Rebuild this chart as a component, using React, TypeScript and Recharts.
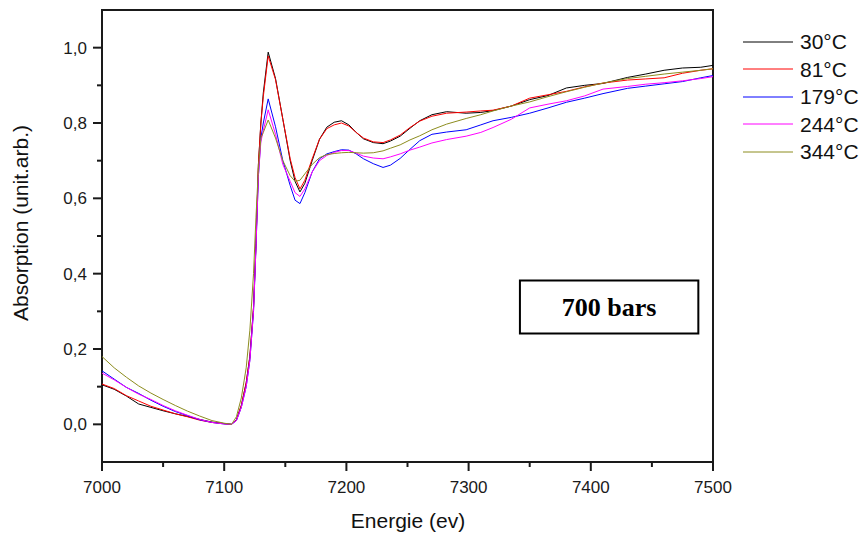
import { LineChart, Line, XAxis, YAxis, Legend, ReferenceArea, Label } from "recharts";

// photon energy (eV)
const energy = [
  7000, 7010, 7020, 7030, 7040, 7050, 7060, 7070, 7080, 7090,
  7100, 7106, 7110, 7114, 7118, 7121, 7124, 7126, 7128, 7130,
  7132, 7136, 7142, 7148, 7154, 7158, 7162, 7166, 7172, 7178,
  7184, 7190, 7196, 7202, 7208, 7214, 7222, 7230, 7236, 7244,
  7252, 7260, 7270, 7282, 7298, 7310, 7320, 7335, 7350, 7365,
  7380, 7395, 7410, 7430, 7445, 7460, 7475, 7490, 7500,
];

const abs30 = [
  0.105, 0.093, 0.075, 0.054, 0.045, 0.036, 0.028, 0.021, 0.013, 0.006,
  0.002, 0.0, 0.012, 0.05, 0.11, 0.18, 0.31, 0.48, 0.69, 0.8,
  0.88, 0.988, 0.918, 0.81, 0.7, 0.645, 0.617, 0.64, 0.7, 0.757,
  0.789, 0.802, 0.806, 0.795, 0.775, 0.758, 0.748, 0.745, 0.752, 0.765,
  0.786, 0.806, 0.822, 0.83, 0.826, 0.828, 0.833, 0.845, 0.862, 0.873,
  0.893, 0.9, 0.905, 0.921, 0.93, 0.94, 0.946, 0.948, 0.953,
];

const abs81 = [
  0.107, 0.095, 0.076, 0.062, 0.048, 0.038, 0.028, 0.02, 0.011, 0.005,
  0.002, 0.0, 0.012, 0.05, 0.11, 0.18, 0.31, 0.48, 0.69, 0.8,
  0.87, 0.978, 0.915, 0.81, 0.705, 0.655, 0.625, 0.648, 0.705, 0.757,
  0.785, 0.795, 0.8, 0.792, 0.775, 0.76, 0.75, 0.748, 0.755, 0.768,
  0.788, 0.805, 0.818, 0.826, 0.829, 0.832, 0.834, 0.845, 0.866, 0.875,
  0.884, 0.896, 0.906, 0.914, 0.917, 0.92, 0.932, 0.94, 0.944,
];

const abs179 = [
  0.142, 0.12, 0.098, 0.082, 0.064, 0.048, 0.034, 0.023, 0.012, 0.005,
  0.001, 0.0, 0.01, 0.045, 0.1, 0.17, 0.3, 0.47, 0.66, 0.76,
  0.8, 0.864, 0.79, 0.7, 0.634, 0.595, 0.586, 0.615, 0.67, 0.705,
  0.718, 0.724, 0.729, 0.728, 0.718, 0.705, 0.692, 0.682, 0.688, 0.706,
  0.73, 0.753, 0.77, 0.776, 0.782, 0.795, 0.806, 0.815, 0.826, 0.84,
  0.855, 0.866, 0.878, 0.892, 0.898, 0.904, 0.91, 0.92, 0.926,
];

const abs244 = [
  0.136, 0.118, 0.098, 0.08, 0.066, 0.05, 0.036, 0.024, 0.013, 0.005,
  0.001, 0.0, 0.01, 0.045, 0.1, 0.17, 0.3, 0.47, 0.66, 0.75,
  0.78, 0.835, 0.77, 0.69, 0.645, 0.615, 0.605, 0.625, 0.67, 0.7,
  0.714, 0.722, 0.727, 0.727, 0.72, 0.712, 0.707, 0.705, 0.71, 0.718,
  0.728, 0.736, 0.747, 0.756, 0.765, 0.775, 0.788, 0.81, 0.84, 0.85,
  0.859, 0.872, 0.89, 0.897, 0.903, 0.907, 0.912, 0.918, 0.923,
];

const abs344 = [
  0.18, 0.15, 0.125, 0.102, 0.083, 0.066, 0.05, 0.035, 0.022, 0.01,
  0.003, 0.0, 0.02, 0.07, 0.15, 0.25, 0.4, 0.55, 0.68, 0.76,
  0.775, 0.808, 0.76, 0.7, 0.66, 0.645, 0.648, 0.665, 0.69, 0.708,
  0.716, 0.719, 0.721, 0.722, 0.721, 0.72, 0.721, 0.726, 0.733, 0.742,
  0.755, 0.766, 0.782, 0.797, 0.812, 0.822, 0.832, 0.845, 0.856, 0.87,
  0.883, 0.895, 0.906, 0.918, 0.924, 0.93, 0.935, 0.94, 0.944,
];

const xTicks = [7000, 7050, 7100, 7150, 7200, 7250, 7300, 7350, 7400, 7450, 7500];
const yTicks = [0, 0.1, 0.2, 0.3, 0.4, 0.5, 0.6, 0.7, 0.8, 0.9, 1.0];

const series = [
  { key: "t30", name: "30°C", color: "#000000", values: abs30 },
  { key: "t81", name: "81°C", color: "#ff0000", values: abs81 },
  { key: "t179", name: "179°C", color: "#0000ff", values: abs179 },
  { key: "t244", name: "244°C", color: "#ff00ff", values: abs244 },
  { key: "t344", name: "344°C", color: "#8c8c1e", values: abs344 },
];

const rows = energy.map((e, i) => {
  const row: Record<string, number> = { e };
  series.forEach((s) => (row[s.key] = s.values[i]));
  return row;
});

const SANS = "'Liberation Sans', Arial, sans-serif";
const INK = "#1a1a1a";

function XTick({ x, y, payload }: any) {
  const v = payload.value;
  const major = v % 100 === 0;
  return (
    <g>
      <line x1={x} x2={x} y1={y} y2={y + (major ? 9 : 5)} stroke={INK} strokeWidth={2} />
      {major && (
        <text x={x} y={y + 31} textAnchor="middle" fontSize={17} fontFamily={SANS} fill={INK}>
          {v}
        </text>
      )}
    </g>
  );
}

function YTick({ x, y, payload }: any) {
  const v = payload.value;
  const major = Math.round(v * 10) % 2 === 0;
  return (
    <g>
      <line x1={x - (major ? 9 : 5)} x2={x} y1={y} y2={y} stroke={INK} strokeWidth={2} />
      {major && (
        <text x={x - 15} y={y} dy="0.36em" textAnchor="end" fontSize={17} fontFamily={SANS} fill={INK}>
          {v.toFixed(1).replace(".", ",")}
        </text>
      )}
    </g>
  );
}

function LegendBox() {
  return (
    <div style={{ fontFamily: SANS, fontSize: 21, color: "#111" }}>
      {series.map((s) => (
        <div key={s.key} style={{ display: "flex", alignItems: "center", height: 27.5 }}>
          <svg width={50} height={4}>
            <line x1={0} x2={50} y1={2} y2={2} stroke={s.color} strokeWidth={1} />
          </svg>
          <span style={{ marginLeft: 7, lineHeight: "27.5px" }}>{s.name}</span>
        </div>
      ))}
    </div>
  );
}

export default function App() {
  return (
    <div style={{ position: "absolute", left: 0, top: 0, width: 866, height: 535, background: "#fff" }}>
      <LineChart width={866} height={535} data={rows} margin={{ top: 10, right: 153, left: 42, bottom: 33 }}>
        <XAxis
          dataKey="e"
          type="number"
          domain={[7000, 7500]}
          ticks={xTicks}
          interval={0}
          axisLine={false}
          tickLine={false}
          tickSize={0}
          tickMargin={0}
          height={40}
          tick={(p: any) => <XTick {...p} />}
        />
        <YAxis
          type="number"
          domain={[-0.1, 1.1]}
          ticks={yTicks}
          interval={0}
          axisLine={false}
          tickLine={false}
          tickSize={0}
          tickMargin={0}
          width={60}
          allowDataOverflow
          tick={(p: any) => <YTick {...p} />}
        />
        <ReferenceArea x1={7000} x2={7500} y1={-0.1} y2={1.1} fill="none" stroke={INK} strokeWidth={2} />
        {series.map((s) => (
          <Line
            key={s.key}
            type="linear"
            dataKey={s.key}
            name={s.name}
            stroke={s.color}
            strokeWidth={1}
            dot={false}
            activeDot={false}
            isAnimationActive={false}
          />
        ))}
        <ReferenceArea x1={7342} x2={7488} y1={0.241} y2={0.382} fill="#fff" fillOpacity={1} stroke="#000" strokeWidth={2}>
          <Label
            value="700 bars"
            position="center"
            fill="#000"
            fontSize={26}
            fontWeight="bold"
            fontFamily="'Liberation Serif', 'Times New Roman', serif"
          />
        </ReferenceArea>
        <Legend
          layout="vertical"
          align="center"
          verticalAlign="middle"
          content={() => <LegendBox />}
          wrapperStyle={{ left: 743, top: 28, width: 123 }}
        />
      </LineChart>
      <div
        style={{
          position: "absolute",
          left: 21,
          top: 223,
          transform: "translate(-50%, -50%) rotate(-90deg)",
          whiteSpace: "nowrap",
          fontFamily: SANS,
          fontSize: 21,
          color: "#111",
        }}
      >
        Absorption (unit.arb.)
      </div>
      <div
        style={{
          position: "absolute",
          left: 408,
          top: 521,
          transform: "translate(-50%, -50%)",
          whiteSpace: "nowrap",
          fontFamily: SANS,
          fontSize: 21,
          color: "#111",
        }}
      >
        Energie (ev)
      </div>
    </div>
  );
}
